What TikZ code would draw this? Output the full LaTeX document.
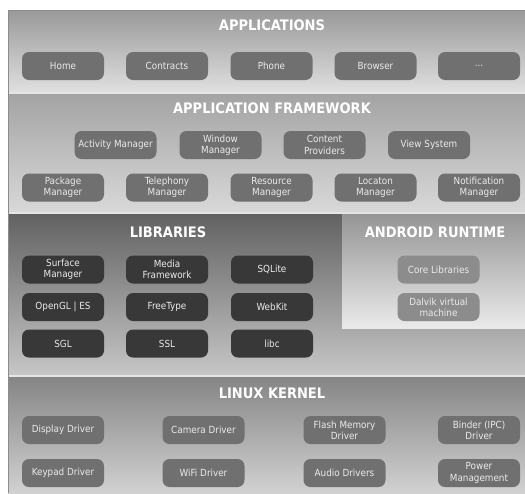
\documentclass[tikz,border=0pt]{standalone}
\usepackage{fontspec}
\setmainfont{DejaVu Sans Condensed}
\begin{document}
\begin{tikzpicture}[x=1pt,y=-1pt,
  btn/.style={rounded corners=7pt, minimum width=82pt, minimum height=28pt, inner sep=1pt,
    align=center, text=white!92!black, font=\fontsize{9.8}{11.2}\selectfont},
  midbtn/.style={btn, fill=black!56},
  darkbtn/.style={btn, fill=black!78},
  rtbtn/.style={btn, fill=black!45},
  ttl/.style={text=white, font=\bfseries\fontsize{14.5}{16}\selectfont}]
\useasboundingbox (0,0) rectangle (525,493);
\fill[white] (0,0) rectangle (525,493);
% bands
\shade[top color=black!40, bottom color=black!12] (8,10) rectangle (525,93);
\shade[top color=black!36, bottom color=black!15] (8,93) rectangle (525,213);
\shade[top color=black!62, bottom color=black!22] (8,213) rectangle (525,376);
\shade[top color=black!42, bottom color=black!8] (342,213) rectangle (525,328);
\shade[top color=black!48, bottom color=black!18] (8,376) rectangle (525,493);
\draw[black!10, line width=1.2pt] (8,93) -- (525,93);
\draw[black!10, line width=1.2pt] (8,213) -- (525,213);
\draw[black!10, line width=1.2pt] (8,376) -- (525,376);
\draw[black!45, line width=0.8pt] (525,10) -- (8,10) -- (8,493);
% titles
\node[ttl] (tapp) at (272,25) {APPLICATIONS};
\node[ttl] (tfw) at (272,108) {APPLICATION FRAMEWORK};
\node[ttl] (tlib) at (168,232) {LIBRARIES};
\node[ttl] (trt) at (435,232) {ANDROID RUNTIME};
\node[ttl] (tlk) at (272,393) {LINUX KERNEL};
% applications
\node[midbtn] (home) at (63,66) {Home};
\node[midbtn] (contracts) at (167,66) {Contracts};
\node[midbtn] (phone) at (271.5,66) {Phone};
\node[midbtn] (browser) at (375.5,66) {Browser};
\node[midbtn] (dots) at (479,66) {...};
% framework
\node[midbtn] (activity) at (115.5,145) {Activity Manager};
\node[midbtn] (window) at (220.5,145) {Window\\Manager};
\node[midbtn] (content) at (324.5,145) {Content\\Providers};
\node[midbtn] (view) at (429,145) {View System};
\node[midbtn] (package) at (63,187.5) {Package\\Manager};
\node[midbtn] (telephony) at (167,187.5) {Telephony\\Manager};
\node[midbtn] (resource) at (271.5,187.5) {Resource\\Manager};
\node[midbtn] (location) at (375.5,187.5) {Locaton\\Manager};
\node[midbtn] (notification) at (479,187.5) {Notification\\Manager};
% libraries
\node[darkbtn] (surface) at (63,269.5) {Surface\\Manager};
\node[darkbtn] (media) at (167,269.5) {Media\\Framework};
\node[darkbtn] (sqlite) at (272,269.5) {SQLite};
\node[darkbtn] (opengl) at (63,307) {OpenGL | ES};
\node[darkbtn] (freetype) at (167,307) {FreeType};
\node[darkbtn] (webkit) at (272,307) {WebKit};
\node[darkbtn] (sgl) at (63,343.5) {SGL};
\node[darkbtn] (ssl) at (167,343.5) {SSL};
\node[darkbtn] (libc) at (272,343.5) {libc};
% runtime
\node[rtbtn] (core) at (438.5,269.5) {Core Libraries};
\node[rtbtn] (dalvik) at (438.5,307) {Dalvik virtual\\machine};
% kernel
\node[midbtn] (display) at (63,430) {Display Driver};
\node[midbtn] (camera) at (203.5,430) {Camera Driver};
\node[midbtn] (flash) at (344.5,430) {Flash Memory\\Driver};
\node[midbtn] (binder) at (479,430) {Binder (IPC)\\Driver};
\node[midbtn] (keypad) at (63,473) {Keypad Driver};
\node[midbtn] (wifi) at (203.5,473) {WiFi Driver};
\node[midbtn] (audio) at (344.5,473) {Audio Drivers};
\node[midbtn] (power) at (479,473) {Power\\Management};
\end{tikzpicture}
\end{document}
